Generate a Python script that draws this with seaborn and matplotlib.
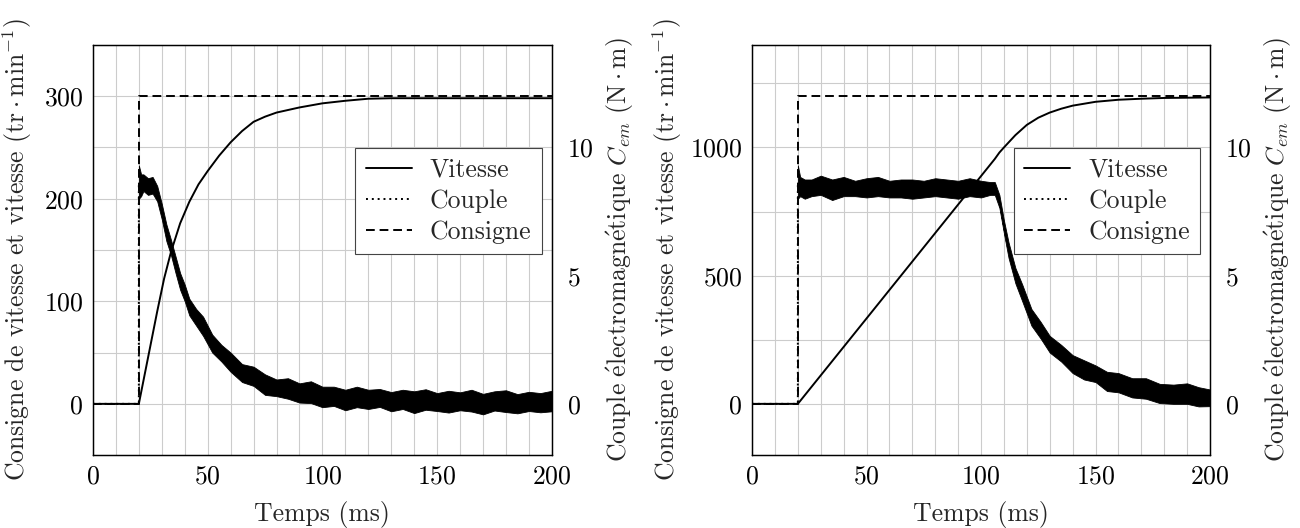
import matplotlib
matplotlib.use("Agg")
import matplotlib.pyplot as plt
import seaborn as sns

# --- Essai 1 : consigne 300 tr/min ---
temps_vitesse_1 = [0, 20, 24, 28, 31, 34, 38, 42, 46, 50, 55, 60, 65, 70, 75, 80, 90, 100, 110, 120, 130, 200]
vitesse_1 = [0, 0, 45, 90, 122, 148, 176, 197, 214, 227, 242, 255, 266, 275, 280, 284, 289, 293, 295.5, 297.5, 298, 298]
temps_consigne_1 = [0, 20, 20, 200]
consigne_1 = [0, 0, 300, 300]
temps_couple_1 = [20, 21, 22, 24, 26, 28, 30, 32, 34, 36, 38, 40, 42, 45, 48, 52, 56, 60, 65, 70,
                  75, 80, 85, 90, 95, 100, 105, 110, 115, 120, 125, 130, 135, 140, 145, 150, 155, 160,
                  165, 170, 175, 180, 185, 190, 195, 200]
couple_1 = [8.6, 8.5, 8.6, 8.5, 8.5, 8.2, 7.5, 6.7, 6.1, 5.4, 4.8, 4.3, 3.8, 3.35, 3.0, 2.4, 1.95, 1.6,
            1.25, 1.0, 0.8, 0.65, 0.55, 0.45, 0.38, 0.32, 0.27, 0.25, 0.22, 0.2, 0.18, 0.16, 0.15, 0.14,
            0.12, 0.12, 0.11, 0.1, 0.1, 0.09, 0.09, 0.08, 0.08, 0.07, 0.07, 0.06]
bruit_haut_1 = [0.7, 0.45, 0.35, 0.3, 0.35, 0.3, 0.3, 0.3, 0.3, 0.35, 0.3, 0.35, 0.3, 0.35, 0.4, 0.3,
                0.35, 0.4, 0.3, 0.45, 0.35, 0.3, 0.45, 0.35, 0.5, 0.35, 0.4, 0.3, 0.45, 0.35, 0.4, 0.3,
                0.4, 0.35, 0.45, 0.3, 0.4, 0.35, 0.45, 0.3, 0.4, 0.45, 0.3, 0.4, 0.35, 0.45]
bruit_bas_1 = [0.6, 0.4, 0.3, 0.35, 0.3, 0.3, 0.3, 0.35, 0.3, 0.3, 0.35, 0.3, 0.35, 0.3, 0.35, 0.4,
               0.3, 0.35, 0.4, 0.3, 0.45, 0.35, 0.35, 0.4, 0.35, 0.45, 0.35, 0.5, 0.35, 0.4, 0.3, 0.45,
               0.35, 0.5, 0.35, 0.4, 0.45, 0.35, 0.4, 0.5, 0.35, 0.4, 0.45, 0.35, 0.4, 0.35]

# --- Essai 2 : consigne 1200 tr/min ---
temps_vitesse_2 = [0, 20, 106, 108, 110, 115, 120, 125, 130, 135, 140, 150, 160, 170, 180, 190, 200]
vitesse_2 = [0, 0, 955, 980, 1000, 1048, 1088, 1116, 1136, 1151, 1163, 1178, 1186, 1190, 1193, 1194, 1195]
temps_consigne_2 = [0, 20, 20, 200]
consigne_2 = [0, 0, 1200, 1200]
temps_couple_2 = [20, 21, 23, 26, 30, 35, 40, 45, 50, 55, 60, 65, 70, 75, 80, 85, 90, 95, 100, 104,
                  106, 108, 110, 112, 115, 118, 122, 126, 130, 135, 140, 145, 150, 155, 160, 166, 172,
                  178, 184, 190, 195, 200]
couple_2 = [8.6, 8.45, 8.4, 8.45, 8.45, 8.4, 8.45, 8.4, 8.45, 8.4, 8.4, 8.35, 8.4, 8.4, 8.4, 8.4, 8.4,
            8.4, 8.4, 8.4, 8.4, 7.9, 6.9, 6.0, 5.0, 4.3, 3.4, 2.85, 2.35, 1.95, 1.6, 1.3, 1.15, 0.95,
            0.8, 0.65, 0.55, 0.48, 0.4, 0.35, 0.3, 0.26]
bruit_haut_2 = [0.7, 0.4, 0.35, 0.3, 0.45, 0.35, 0.4, 0.3, 0.35, 0.45, 0.3, 0.4, 0.35, 0.3, 0.4, 0.35,
                0.3, 0.4, 0.3, 0.25, 0.25, 0.25, 0.25, 0.3, 0.3, 0.35, 0.3, 0.35, 0.3, 0.35, 0.3, 0.4,
                0.35, 0.3, 0.4, 0.35, 0.45, 0.3, 0.35, 0.45, 0.35, 0.3]
bruit_bas_2 = [0.6, 0.35, 0.4, 0.35, 0.3, 0.45, 0.35, 0.3, 0.4, 0.3, 0.35, 0.3, 0.4, 0.35, 0.3, 0.35,
               0.4, 0.3, 0.35, 0.25, 0.25, 0.25, 0.25, 0.3, 0.3, 0.3, 0.35, 0.3, 0.35, 0.3, 0.4, 0.35,
               0.3, 0.45, 0.35, 0.4, 0.35, 0.45, 0.4, 0.35, 0.4, 0.35]

sns.set_theme(style="whitegrid")
plt.rcParams["font.family"] = ["cmr10", "DejaVu Serif"]
plt.rcParams["mathtext.fontset"] = "cm"
plt.rcParams["axes.formatter.use_mathtext"] = True

TAILLE = 18.5
GRIS = "#cccccc"
label_vitesse = r"Consigne de vitesse et vitesse $(\mathrm{tr}\cdot\mathrm{min}^{-1})$"
label_couple = r"$\mathrm{Couple\ \acute{e}lectromagn\acute{e}tique}\ C_{em}\ (\mathrm{N}\cdot\mathrm{m})$"


def tracer(ax, tv, v, tc, c, tt, t, bh, bb, ylim, pas_grille, ticks, pad_label):
    ax2 = ax.twinx()

    sns.lineplot(x=tv, y=v, ax=ax, color="black", lw=1.4, estimator=None, sort=False, label="Vitesse")
    sns.lineplot(x=tc, y=c, ax=ax, color="black", lw=1.4, linestyle=(0, (4.5, 2.5)),
                 estimator=None, sort=False, label="Consigne")

    haut = [a + b for a, b in zip(t, bh)]
    bas = [a - b for a, b in zip(t, bb)]
    ax2.fill_between(tt, bas, haut, color="black", lw=0.6)
    sns.lineplot(x=[0, 20] + tt, y=[0, 0] + t, ax=ax2, color="black", lw=1.4,
                 linestyle=(0, (1, 2)), estimator=None, sort=False, label="Couple")

    ax.set_xlim(0, 200)
    ax.set_ylim(*ylim)
    ax.set_xticks([0, 50, 100, 150, 200])
    ax.set_xticks(range(0, 201, 10), minor=True)
    ax.set_yticks(ticks)
    ax.set_yticks(range(0, ylim[1] + 1, pas_grille), minor=True)
    ax.grid(True, which="both", color=GRIS, lw=0.8)
    ax.set_axisbelow(True)

    ax2.set_ylim(-2, 14)
    ax2.set_yticks([0, 5, 10])
    ax2.grid(False)

    ax.set_xlabel("Temps (ms)", fontsize=TAILLE, labelpad=9)
    ax.set_ylabel(label_vitesse, fontsize=TAILLE, labelpad=pad_label)
    ax2.set_ylabel(label_couple, fontsize=TAILLE, labelpad=8)

    ax.tick_params(axis="both", which="both", length=0, colors="black", labelsize=TAILLE)
    ax.tick_params(axis="y", pad=7)
    ax.tick_params(axis="x", pad=7)
    ax2.tick_params(axis="y", length=0, pad=11, colors="black", labelsize=TAILLE)
    for a in (ax, ax2):
        for s in a.spines.values():
            s.set_color("black")
            s.set_linewidth(0.9)
        if a.get_legend() is not None:
            a.get_legend().remove()

    h1, l1 = ax.get_legend_handles_labels()
    h2, l2 = ax2.get_legend_handles_labels()
    handles = [h1[0], h2[0], h1[1]]
    labels = [l1[0], l2[0], l1[1]]
    leg = ax2.legend(handles, labels, loc="upper right", bbox_to_anchor=(0.978, 0.749),
                     fontsize=TAILLE, handlelength=1.8, handletextpad=0.7, labelspacing=0.28,
                     borderpad=0.4, borderaxespad=0, fancybox=False, framealpha=1,
                     edgecolor="#444444")
    leg.get_frame().set_linewidth(0.8)


fig = plt.figure(figsize=(13, 5.28), dpi=100)
ax_g = fig.add_axes([0.0715, 0.138, 0.353, 0.777])
ax_d = fig.add_axes([0.5785, 0.138, 0.3523, 0.777])

tracer(ax_g, temps_vitesse_1, vitesse_1, temps_consigne_1, consigne_1,
       temps_couple_1, couple_1, bruit_haut_1, bruit_bas_1, (-50, 350), 50, [0, 100, 200, 300], 7)
tracer(ax_d, temps_vitesse_2, vitesse_2, temps_consigne_2, consigne_2,
       temps_couple_2, couple_2, bruit_haut_2, bruit_bas_2, (-200, 1400), 250, [0, 500, 1000], 4)

fig.savefig("out.png", dpi=100)
